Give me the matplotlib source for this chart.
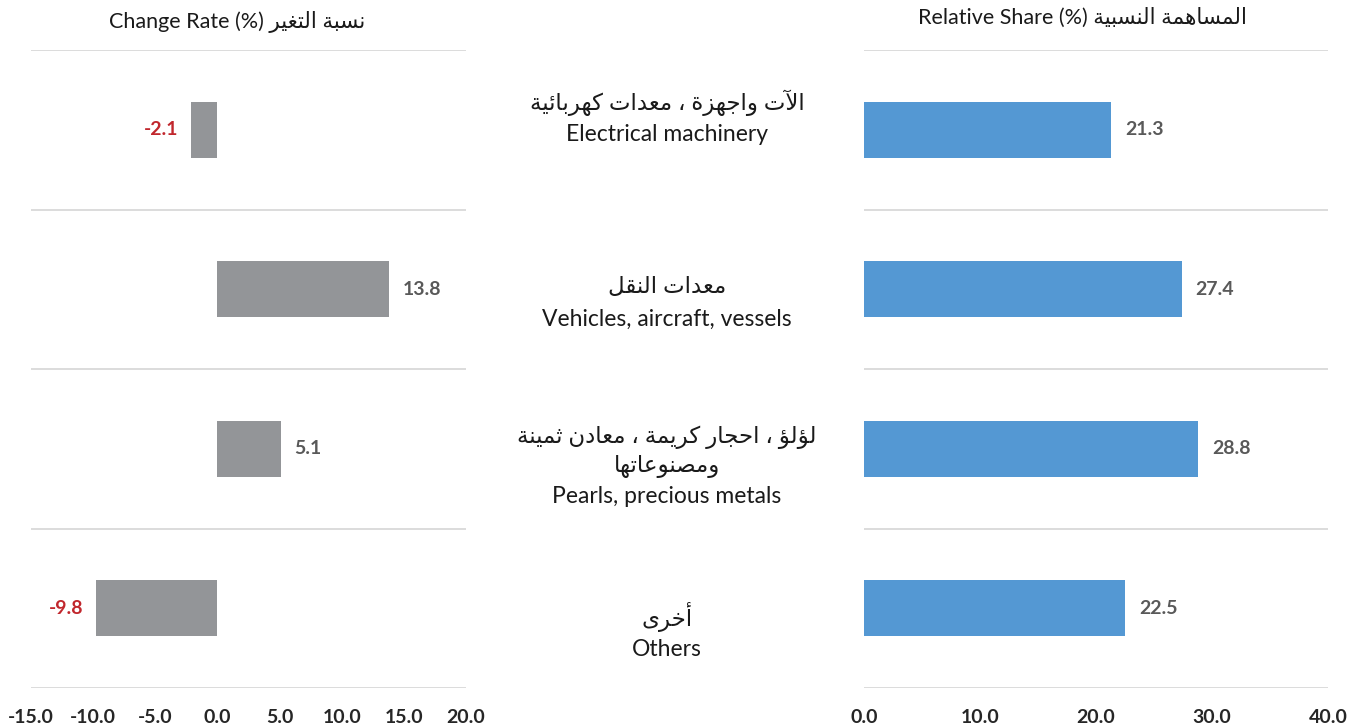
import matplotlib
matplotlib.use('Agg')
import matplotlib.pyplot as plt
import numpy as np

plt.rcParams['font.family'] = ['Lato', 'DejaVu Sans']

# data
cats_ar = [['الآت واجهزة ، معدات كهربائية'],
           ['معدات النقل'],
           ['لؤلؤ ، احجار كريمة ، معادن ثمينة', 'ومصنوعاتها'],
           ['أخرى']]
cats_en = ['Electrical machinery', 'Vehicles, aircraft, vessels',
           'Pearls, precious metals', 'Others']
change_rate = [-2.1, 13.8, 5.1, -9.8]
rel_share = [21.3, 27.4, 28.8, 22.5]
change_ticks = [-15, -10, -5, 0, 5, 10, 15, 20]
share_ticks = [0, 10, 20, 30, 40]

# --- tiny arabic shaper (matplotlib has no RTL/shaping support) ---
DUAL = {'ئ': 0xFE89, 'ب': 0xFE8F, 'ت': 0xFE95, 'ث': 0xFE99, 'ج': 0xFE9D,
        'ح': 0xFEA1, 'خ': 0xFEA5, 'س': 0xFEB1, 'ش': 0xFEB5, 'ص': 0xFEB9,
        'ض': 0xFEBD, 'ط': 0xFEC1, 'ظ': 0xFEC5, 'ع': 0xFEC9, 'غ': 0xFECD,
        'ف': 0xFED1, 'ق': 0xFED5, 'ك': 0xFED9, 'ل': 0xFEDD, 'م': 0xFEE1,
        'ن': 0xFEE5, 'ه': 0xFEE9, 'ي': 0xFEF1}
RIGHT = {'آ': 0xFE81, 'أ': 0xFE83, 'ؤ': 0xFE85, 'إ': 0xFE87, 'ا': 0xFE8D,
         'ة': 0xFE93, 'د': 0xFEA9, 'ذ': 0xFEAB, 'ر': 0xFEAD, 'ز': 0xFEAF,
         'و': 0xFEED, 'ى': 0xFEEF}
LAMALEF = {'آ': 0xFEF5, 'أ': 0xFEF7, 'إ': 0xFEF9, 'ا': 0xFEFB}


def ar(txt):
    toks = []
    i = 0
    while i < len(txt):
        c = txt[i]
        if c == 'ل' and i + 1 < len(txt) and txt[i + 1] in LAMALEF:
            toks.append(('LA', LAMALEF[txt[i + 1]]))
            i += 2
        else:
            toks.append(c)
            i += 1

    def joins(t):
        return t in DUAL

    def arabic(t):
        return isinstance(t, tuple) or t in DUAL or t in RIGHT

    out = []
    for k, t in enumerate(toks):
        prev = toks[k - 1] if k > 0 else None
        nxt = toks[k + 1] if k + 1 < len(toks) else None
        cp = prev is not None and arabic(prev) and joins(prev)
        cn = nxt is not None and arabic(nxt) and joins(t)
        if isinstance(t, tuple):
            out.append(chr(t[1] + (1 if cp else 0)))
        elif t in DUAL:
            base = DUAL[t]
            if cp and cn:
                out.append(chr(base + 3))
            elif cp:
                out.append(chr(base + 1))
            elif cn:
                out.append(chr(base + 2))
            else:
                out.append(chr(base))
        elif t in RIGHT:
            out.append(chr(RIGHT[t] + (1 if cp else 0)))
        else:
            out.append(t)
    return ''.join(reversed(out))


W, H = 1365, 728
fig = plt.figure(figsize=(W / 100, H / 100), dpi=100)

grid_c = '#D9D9D9'
tick_c = '#262626'
val_c = '#595959'
neg_c = '#C1272D'
y = np.arange(len(cats_en))
bh = 0.35


def setup(ax, ticks):
    ax.set_ylim(len(cats_en) - 0.5, -0.5)
    for s in ax.spines.values():
        s.set_visible(False)
    ax.set_yticks([])
    for b in np.arange(-0.5, len(cats_en), 1.0):
        ax.axhline(b, color=grid_c, lw=1.3, zorder=0)
    ax.set_xlim(ticks[0], ticks[-1])
    ax.set_xticks(ticks)
    ax.set_xticklabels(['%.1f' % t for t in ticks], fontsize=14,
                       fontweight='bold', color=tick_c)
    ax.tick_params(axis='x', length=0, pad=15)


# left: change rate
ax1 = fig.add_axes([31 / W, 40 / H, 435 / W, 638 / H])
setup(ax1, change_ticks)
ax1.barh(y, change_rate, height=bh, color='#939598', zorder=2)
for yi, v in zip(y, change_rate):
    if v < 0:
        ax1.annotate('%.1f' % v, (v, yi), xytext=(-9, 0), textcoords='offset points',
                     ha='right', va='center', fontsize=14, fontweight='bold', color=neg_c)
    else:
        ax1.annotate('%.1f' % v, (v, yi), xytext=(10, 0), textcoords='offset points',
                     ha='left', va='center', fontsize=14, fontweight='bold', color=val_c)

# right: relative share
ax2 = fig.add_axes([864 / W, 40 / H, 464 / W, 638 / H])
setup(ax2, share_ticks)
ax2.barh(y, rel_share, height=bh, color='#5498D3', zorder=2)
for yi, v in zip(y, rel_share):
    ax2.annotate('%.1f' % v, (v, yi), xytext=(10, 0), textcoords='offset points',
                 ha='left', va='center', fontsize=14, fontweight='bold', color=val_c)

# middle category labels
axm = fig.add_axes([470 / W, 40 / H, 390 / W, 638 / H])
axm.set_ylim(len(cats_en) - 0.5, -0.5)
axm.set_xlim(0, 1)
axm.axis('off')
line_pos = [[-0.17, 0.03], [-0.02, 0.19], [-0.07, 0.11, 0.30], [0.055, 0.256]]
for k in range(len(cats_en)):
    lines = [ar(s) for s in cats_ar[k]] + [cats_en[k]]
    for ln, dy in zip(lines, line_pos[k]):
        axm.text(0.505, k + dy, ln, ha='center', va='center', fontsize=16.5, color='#1a1a1a')

# headers
fig.text(237 / W, 1 - 22 / H, 'Change Rate (%) ' + ar('نسبة التغير'),
         ha='center', va='center', fontsize=15.5, color='#1a1a1a')
fig.text(1083 / W, 1 - 18 / H, 'Relative Share (%) ' + ar('المساهمة النسبية'),
         ha='center', va='center', fontsize=15.5, color='#1a1a1a')

fig.savefig('out.png', dpi=100, facecolor='white')
